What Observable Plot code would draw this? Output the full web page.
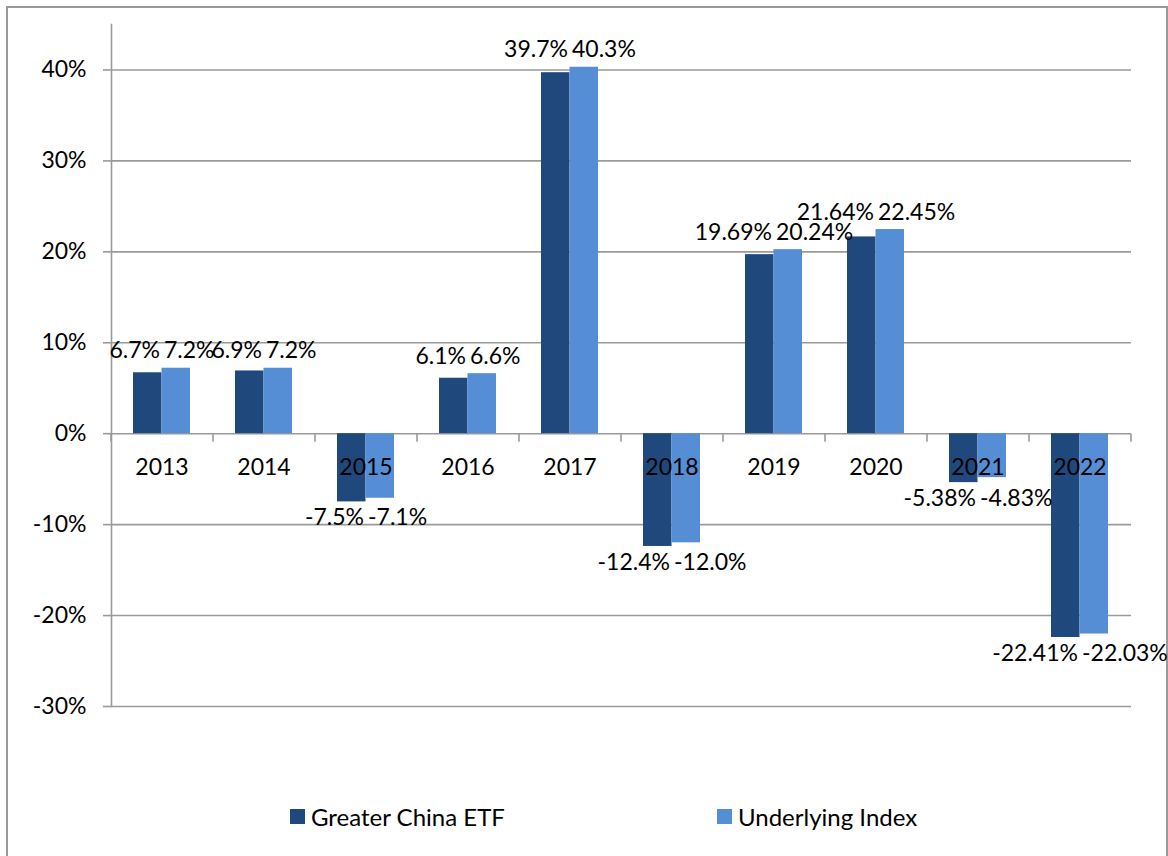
<!DOCTYPE html>
<html>
<head>
<meta charset="utf-8">
<script src="https://cdn.jsdelivr.net/npm/d3@7"></script>
<script src="https://cdn.jsdelivr.net/npm/@observablehq/plot@0.6"></script>
<style>
  html, body { margin: 0; padding: 0; background: #fff; overflow: hidden; }
  body { width: 1168px; height: 856px; position: relative; font-family: Lato, "Open Sans", sans-serif; }
  #frame { position: absolute; left: 6px; top: 6px; width: 1162px; height: 900px; box-sizing: border-box; border: 2px solid #9a9a9a; }
  #chart { position: absolute; left: 0; top: 0; }
  #legend { position: absolute; left: 290px; top: 802px; display: flex; font-size: 24px; color: #000; }
  .item { display: flex; align-items: center; }
  .sw { width: 15px; height: 15px; margin-right: 6px; }
</style>
</head>
<body>
<div id="frame"></div>
<div id="chart"></div>
<div id="legend"></div>
<script>
const years = ["2013","2014","2015","2016","2017","2018","2019","2020","2021","2022"];
const etfValues = [6.7, 6.9, -7.5, 6.1, 39.7, -12.4, 19.69, 21.64, -5.38, -22.41];
const indexValues = [7.2, 7.2, -7.1, 6.6, 40.3, -12.0, 20.24, 22.45, -4.83, -22.03];
const labelDecimals = [1, 1, 1, 1, 1, 1, 2, 2, 2, 2];
const seriesNames = ["Greater China ETF", "Underlying Index"];
const seriesColors = ["#1F497D", "#558ED5"];
const yTicks = [-30, -20, -10, 0, 10, 20, 30, 40];
const yDomain = [-30, 45];

const rows = years.map((year, i) => ({
  year, etf: etfValues[i], index: indexValues[i], dec: labelDecimals[i]
}));
const extreme = d => d.etf >= 0 ? Math.max(d.etf, d.index) : Math.min(d.etf, d.index);
const pos = rows.filter(d => d.etf >= 0);
const neg = rows.filter(d => d.etf < 0);
const fmt = (v, dec) => v.toFixed(dec) + "%";

const W = 1168, H = 740, mL = 111, mR = 37, mT = 24, mB = 34;
const padInner = 0.441, padOuter = padInner / 2;
const step = (W - mL - mR) / years.length;
const bandwidth = step * (1 - padInner);
const font = "Lato, 'Open Sans', sans-serif";
const grid = "#9a9a9a";
const fs = 23;

const tickSymbol = { draw(ctx) { ctx.moveTo(0, 0); ctx.lineTo(0, 8); } };

const chart = Plot.plot({
  width: W, height: H,
  marginLeft: mL, marginRight: mR, marginTop: mT, marginBottom: mB,
  style: { fontFamily: font, fontSize: fs + "px", color: "#000", background: "transparent" },
  x: { domain: years, paddingInner: padInner, paddingOuter: padOuter, axis: null },
  y: { domain: yDomain, axis: null },
  marks: [
    Plot.ruleY(yTicks, { stroke: grid, strokeWidth: 1.6 }),
    Plot.axisY(yTicks, { tickFormat: d => d + "%", tickSize: 8, tickPadding: 17, stroke: grid, strokeWidth: 1.6, fill: "#000", fontSize: fs }),
    Plot.frame({ anchor: "left", stroke: grid, strokeWidth: 1.6 }),
    Plot.dot(years, { x: d => d, y: () => 0, symbol: tickSymbol, stroke: grid, strokeWidth: 1.6, fill: "none", dx: -step / 2 }),
    Plot.dot(years.slice(-1), { x: d => d, y: () => 0, symbol: tickSymbol, stroke: grid, strokeWidth: 1.6, fill: "none", dx: step / 2 }),
    Plot.barY(rows, { x: "year", y: "etf", fill: seriesColors[0], insetRight: bandwidth / 2 }),
    Plot.barY(rows, { x: "year", y: "index", fill: seriesColors[1], insetLeft: bandwidth / 2 }),
    Plot.text(rows, { x: "year", y: () => 0, text: "year", dy: 34, fontSize: fs, fill: "#000" }),
    Plot.text(pos, { x: "year", y: extreme, text: d => fmt(d.etf, d.dec), textAnchor: "end", lineAnchor: "bottom", dx: -2, dy: -10, fontSize: fs, fill: "#000" }),
    Plot.text(pos, { x: "year", y: extreme, text: d => fmt(d.index, d.dec), textAnchor: "start", lineAnchor: "bottom", dx: 2, dy: -10, fontSize: fs, fill: "#000" }),
    Plot.text(neg, { x: "year", y: extreme, text: d => fmt(d.etf, d.dec), textAnchor: "end", lineAnchor: "top", dx: -2, dy: 7, fontSize: fs, fill: "#000" }),
    Plot.text(neg, { x: "year", y: extreme, text: d => fmt(d.index, d.dec), textAnchor: "start", lineAnchor: "top", dx: 2, dy: 7, fontSize: fs, fill: "#000" })
  ]
});
document.getElementById("chart").appendChild(chart);

const legend = document.getElementById("legend");
seriesNames.forEach((name, i) => {
  const item = document.createElement("div");
  item.className = "item";
  if (i === 0) item.style.width = "427px";
  const sw = document.createElement("span");
  sw.className = "sw";
  sw.style.background = seriesColors[i];
  const label = document.createElement("span");
  label.textContent = name;
  item.appendChild(sw);
  item.appendChild(label);
  legend.appendChild(item);
});
</script>
</body>
</html>
